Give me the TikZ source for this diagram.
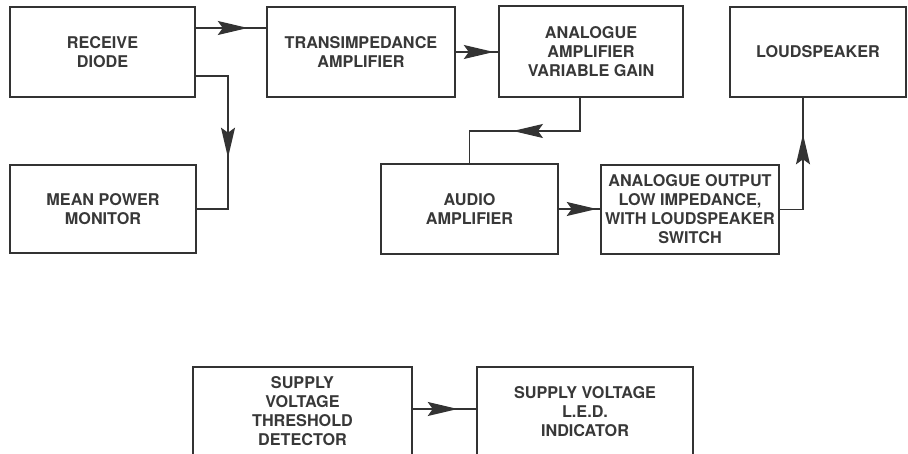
\documentclass[tikz,border=0pt]{standalone}
\usepackage{fontspec}
\setmainfont{TeX Gyre Heros}
\usetikzlibrary{arrows.meta,decorations.markings}

\begin{document}
\begin{tikzpicture}[x=1pt, y=1pt,
  block/.style={draw=black!80, line width=2pt, text=black!78, align=center,
    font=\bfseries\fontsize{16.2}{19}\selectfont, inner sep=2pt},
  link/.style={draw=black!80, line width=1.3pt},
  arr/.style={postaction={decorate}, decoration={markings,
    mark=at position #1 with {\arrow{Stealth[length=30pt,width=14pt,inset=5pt]}}}}]
\clip (0,0) rectangle (908,454);
\fill[white] (0,0) rectangle (908,454);
\node[block, minimum width=185, minimum height=90] (diode) at (102.5,402) {RECEIVE\\DIODE};
\node[block, minimum width=188, minimum height=90] (trans) at (361,402) {TRANSIMPEDANCE\\AMPLIFIER};
\node[block, minimum width=184, minimum height=91] (amp) at (591,402.5) {ANALOGUE\\AMPLIFIER\\VARIABLE GAIN};
\node[block, minimum width=176, minimum height=90] (speaker) at (818,402) {LOUDSPEAKER};
\node[block, minimum width=186, minimum height=88] (monitor) at (103,245) {MEAN POWER\\MONITOR};
\node[block, minimum width=177, minimum height=90] (audio) at (469.5,245) {AUDIO\\AMPLIFIER};
\node[block, minimum width=178, minimum height=89] (output) at (690,244.5) {ANALOGUE OUTPUT\\LOW IMPEDANCE,\\WITH LOUDSPEAKER\\SWITCH};
\node[block, minimum width=219, minimum height=89] (detector) at (302.5,42.5) {SUPPLY\\VOLTAGE\\THRESHOLD\\DETECTOR};
\node[block, minimum width=216, minimum height=89] (led) at (585,42.5) {SUPPLY VOLTAGE\\L.E.D.\\INDICATOR};
\path[link, arr=0.74] (diode.east |- 0,426) -- (trans.west |- 0,426);
\path[link, arr=0.58] (diode.east |- 0,378) -- (228,378) |- (monitor.east);
\path[link, arr=0.9] (trans.east) -- (amp.west |- trans.east);
\path[link, arr=0.57] (amp.south -| 580,0) -- (580,323) -| (audio.north);
\path[link, arr=0.92] (audio.east) -- (output.west |- audio.east);
\path[link, arr=0.73] (output.east) -| (speaker.south -| 803,0);
\path[link, arr=0.71] (detector.east |- 0,45) -- (led.west |- 0,45);
\end{tikzpicture}
\end{document}
